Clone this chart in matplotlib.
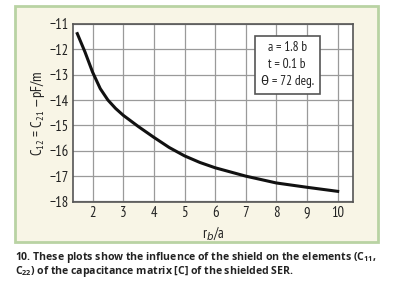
import matplotlib
matplotlib.use("Agg")
from matplotlib import pyplot as plt
from matplotlib.patches import Rectangle

plt.rcParams['font.family'] = ['PT Sans Narrow', 'DejaVu Sans']
plt.rcParams['mathtext.fontset'] = 'custom'
plt.rcParams['mathtext.rm'] = 'PT Sans Narrow'
plt.rcParams['mathtext.bf'] = 'Open Sans:bold'

# valeurs
rb_sur_a = [1.5, 1.75, 2.0, 2.25, 2.5, 2.75, 3.0, 3.5, 4.0, 4.5, 5.0, 5.5, 6.0, 7.0, 8.0, 9.0, 10.0]
c12 = [-11.38, -12.1, -12.9, -13.55, -14.0, -14.33, -14.6, -15.05, -15.47, -15.87, -16.2,
       -16.46, -16.67, -17.0, -17.27, -17.44, -17.6]
xticks = [2, 3, 4, 5, 6, 7, 8, 9, 10]
yticks = [-18, -17, -16, -15, -14, -13, -12, -11]
params = "a = 1.8 b\nt = 0.1 b\nθ = 72 deg."
legende = [r"10. These plots show the influence of the shield on the elements (C$_{\mathbf{11}}$,",
           r"C$_{\mathbf{22}}$) of the capacitance matrix [C] of the shielded SER."]

W, H = 402, 294
fig = plt.figure(figsize=(W / 100, H / 100), dpi=100)
fig.patch.set_facecolor("white")

# panneau beige avec bord vert
fig.patches.append(Rectangle((15 / W, 1 - 242 / H), 363 / W, 236 / H, transform=fig.transFigure,
                             facecolor="#f8f5e6", edgecolor="#b9d3a3", linewidth=2, zorder=-10))

ax = fig.add_axes([73 / W, 1 - 202 / H, 280 / W, 178 / H])
ax.set_facecolor("white")
ax.plot(rb_sur_a, c12, color="#111111", linewidth=2.2, zorder=3)
ax.set_xlim(1.36, 10.5)
ax.set_ylim(-18.02, -11)
ax.set_xticks(xticks)
ax.set_yticks(yticks)
ax.set_yticklabels([f"\u2212{abs(v)}" for v in yticks])
ax.grid(True, color="#9a9a9a", linewidth=0.9)
ax.tick_params(length=0, labelsize=10.5, pad=3, labelcolor="#222222")
for s in ax.spines.values():
    s.set_color("#555555")
    s.set_linewidth(1.2)
ax.set_xlabel("r$_b$/a", fontsize=10.5, labelpad=3, color="#222222")
ax.set_ylabel("C$_{12}$ = C$_{21}$ \u2014pF/m", fontsize=10.5, labelpad=2, color="#222222")

ax.text(0.765, 0.77, params, transform=ax.transAxes, ha="center", va="center",
        fontsize=9.5, linespacing=1.4, zorder=5, color="#222222",
        bbox=dict(boxstyle="square,pad=0.45", facecolor="white", edgecolor="#555555", linewidth=1.2))

for i, ligne in enumerate(legende):
    fig.text(15 / W, 1 - (260 + 14 * i) / H, ligne, ha="left", va="baseline", fontsize=7.6,
             fontweight="bold", color="#222222", family=["Open Sans", "DejaVu Sans"])

fig.savefig("out.png", dpi=100)
